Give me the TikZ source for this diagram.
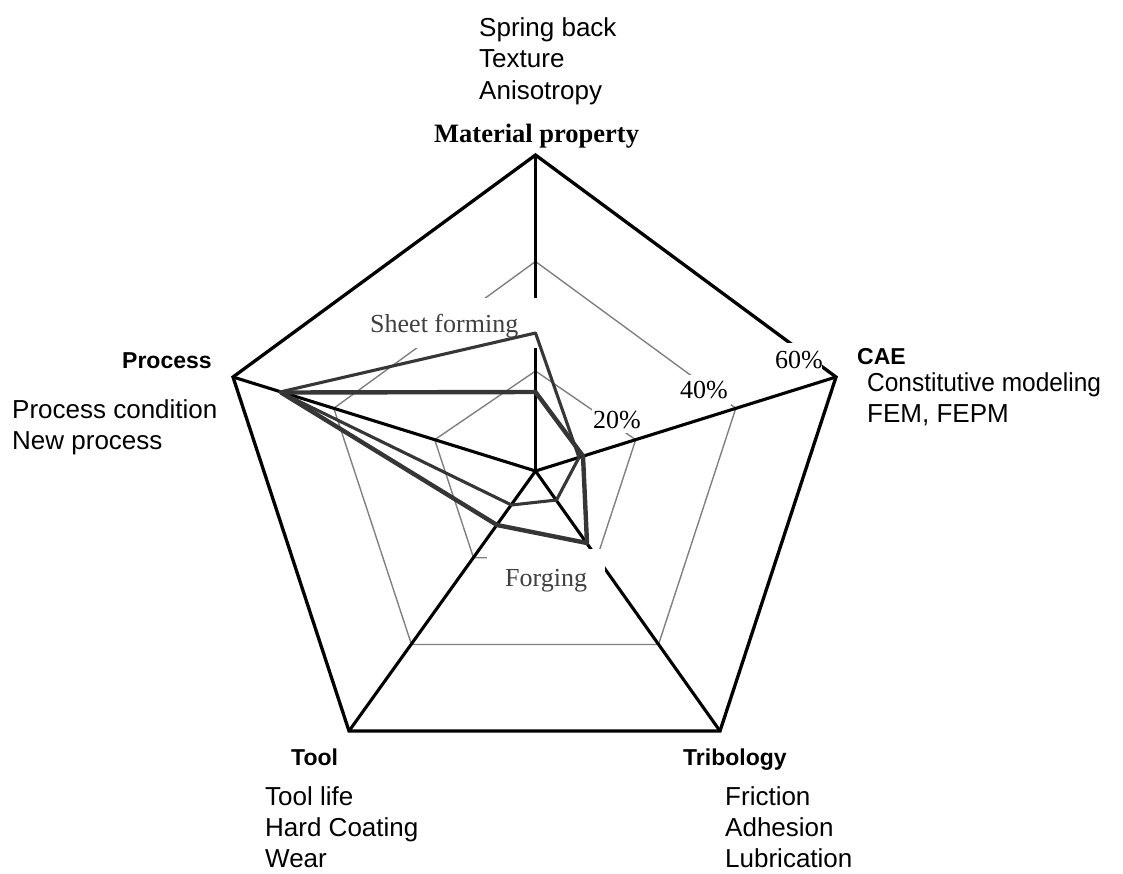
\documentclass[tikz,border=0pt]{standalone}
\usepackage{fontspec}
\setmainfont{Liberation Serif}
\setsansfont{Liberation Sans}
\definecolor{ringgray}{HTML}{808080}
\definecolor{seriesgray}{HTML}{363636}
\definecolor{lblgray}{HTML}{404040}
\tikzset{
  ringline/.style={draw=ringgray, line width=1.4pt, line join=miter},
  outerline/.style={draw=black, line width=3.3pt, line join=miter},
  axisline/.style={draw=black, line width=3.1pt},
  seriesA/.style={draw=seriesgray, line width=3.1pt, line join=round},
  seriesB/.style={draw=seriesgray, line width=4.4pt, line join=round},
  whitebox/.style={fill=white, draw=none},
  txt/.style={anchor=base west, inner sep=0pt, font=\sffamily\fontsize{26}{31}\selectfont},
  headtxt/.style={anchor=base west, inner sep=0pt, font=\sffamily\bfseries\fontsize{23}{27}\selectfont},
  pcttxt/.style={anchor=base west, inner sep=0pt, font=\rmfamily\fontsize{26}{31}\selectfont},
  serieslbl/.style={pcttxt, text=lblgray},
}
\begin{document}
\begin{tikzpicture}[x=1pt,y=-1pt]
\useasboundingbox (0,0) rectangle (1123,873);
% axis end points
\coordinate (C) at (535.5,471);
\coordinate (T) at (535.5,155);
\coordinate (R) at (836,377);
\coordinate (BR) at (720,731);
\coordinate (BL) at (349,731);
\coordinate (L) at (233,377);
% 20% ring
\coordinate (a1) at (535.5,371);
\coordinate (a2) at (635.7,439.7);
\coordinate (a3) at (597,557.7);
\coordinate (a4) at (473.5,557.7);
\coordinate (a5) at (434.7,439.7);
% 40% ring
\coordinate (b1) at (535.5,261.5);
\coordinate (b2) at (735.8,408.3);
\coordinate (b3) at (658.5,644.5);
\coordinate (b4) at (411.5,644.5);
\coordinate (b5) at (333.8,408.3);
% series A (Sheet forming)
\coordinate (sA1) at (535.5,333);
\coordinate (sA2) at (579,457.5);
\coordinate (sA3) at (556.5,500);
\coordinate (sA4) at (511.5,505);
\coordinate (sA5) at (280,392);
% series B (Forging)
\coordinate (sB1) at (535.5,392);
\coordinate (sB2) at (583,456);
\coordinate (sB3) at (587,543);
\coordinate (sB4) at (497,525);
\coordinate (sB5) at (281,392.5);

% grid rings
\draw[ringline] (a1) -- (a2) -- (a3) -- (a4) -- (a5) -- cycle;
\draw[ringline] (b1) -- (b2) -- (b3) -- (b4) -- (b5) -- cycle;
% axes
\draw[axisline] (C) -- (T);
\draw[axisline] (C) -- (R);
\draw[axisline] (C) -- (BR);
\draw[axisline] (C) -- (BL);
\draw[axisline] (C) -- (L);
% outer ring (60%)
\draw[outerline] (T) -- (R) -- (BR) -- (BL) -- (L) -- cycle;

% label backgrounds
\fill[whitebox] (348,298) rectangle (540,348);
\fill[whitebox] (487,549) rectangle (605,605);
\fill[whitebox] (592,402) rectangle (646,433);
\fill[whitebox] (676,375) rectangle (731,405);
\fill[whitebox] (771,343) rectangle (822,372);

% data series
\draw[seriesA] (sA1) -- (sA2) -- (sA3) -- (sA4) -- (sA5) -- cycle;
\draw[seriesB] (sB1) -- (sB2) -- (sB3) -- (sB4) -- (sB5) -- cycle;

% series and scale labels
\node[serieslbl] (lsheet) at (370,332) {Sheet forming};
\node[serieslbl] (lforg) at (505,586) {Forging};
\node[pcttxt] (p20) at (593,428) {20\%};
\node[pcttxt] (p40) at (680,398) {40\%};
\node[pcttxt] (p60) at (775,368) {60\%};

% axis headings
\node[anchor=base west, inner sep=0pt, font=\rmfamily\bfseries\fontsize{26.5}{31}\selectfont] (hmat) at (434,142) {Material property};
\node[headtxt] (hcae) at (857,364) {CAE};
\node[headtxt] (hproc) at (122,368) {Process};
\node[headtxt] (htool) at (291,765) {Tool};
\node[headtxt] (htrib) at (683,765) {Tribology};

% descriptions
\node[txt] (t1) at (479,36) {Spring back};
\node[txt] (t2) at (479,67.5) {Texture};
\node[txt] (t3) at (479,99) {Anisotropy};
\node[txt] (c1) at (867,391) {\scalebox{0.941}[1]{Constitutive modeling}};
\node[txt] (c2) at (867,422) {FEM, FEPM};
\node[txt] (pr1) at (12,418) {Process condition};
\node[txt] (pr2) at (12,449) {New process};
\node[txt] (to1) at (265,805) {Tool life};
\node[txt] (to2) at (265,836) {Hard Coating};
\node[txt] (to3) at (265,867) {Wear};
\node[txt] (tr1) at (725,805) {Friction};
\node[txt] (tr2) at (725,836) {Adhesion};
\node[txt] (tr3) at (725,867) {Lubrication};
\end{tikzpicture}
\end{document}
